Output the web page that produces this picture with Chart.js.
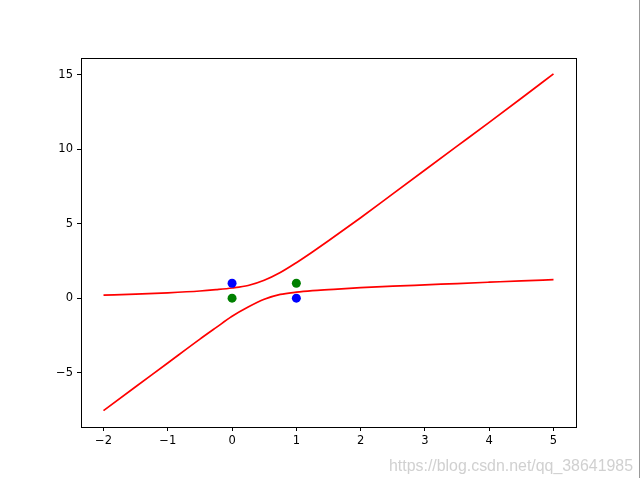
<!DOCTYPE html>
<html>
<head>
<meta charset="utf-8">
<script src="https://cdn.jsdelivr.net/npm/chart.js@4/dist/chart.umd.min.js"></script>
<style>
html,body{margin:0;padding:0;background:#fff;}
#wrap{width:641px;height:478px;position:relative;}
</style>
</head>
<body>
<div id="wrap"><canvas id="c" width="641" height="478"></canvas></div>
<script>
// ---- data ----
const curveX  = [-2, -1.5, -1, -0.5, -0.25, 0, 0.25, 0.5, 0.75, 1, 1.25, 1.5, 2, 2.5, 3, 3.5, 4, 4.5, 5];
const upperY  = [0.2, 0.27, 0.36, 0.48, 0.57, 0.68, 0.85, 1.2, 1.72, 2.38, 3.1, 3.85, 5.4, 7.0, 8.6, 10.2, 11.8, 13.42, 15.05];
const lowerY  = [-7.55, -5.95, -4.35, -2.75, -1.98, -1.22, -0.6, -0.08, 0.25, 0.4, 0.5, 0.57, 0.7, 0.8, 0.89, 0.98, 1.07, 1.16, 1.24];
const blueX   = [0, 1];
const blueY   = [1, 0];
const greenX  = [0, 1];
const greenY  = [0, 1];
const xTicks  = [-2, -1, 0, 1, 2, 3, 4, 5];
const yTicks  = [-5, 0, 5, 10, 15];
const watermark = "https://blog.csdn.net/qq_38641985";

const toPts = (xs, ys) => xs.map((x, i) => ({x: x, y: ys[i]}));
const minus = v => String(v).replace('-', '\u2212');

const boxPlugin = {
  id: 'box',
  afterDraw(chart) {
    const {ctx, chartArea: a} = chart;
    ctx.save();
    ctx.strokeStyle = '#000';
    ctx.lineWidth = 1;
    ctx.strokeRect(Math.round(a.left) + 0.5, Math.round(a.top) + 0.5,
                   Math.round(a.right - a.left), Math.round(a.bottom - a.top));
    // watermark
    ctx.fillStyle = 'rgba(200,200,200,0.85)';
    ctx.font = '16px "Liberation Sans", Arial, sans-serif';
    ctx.textBaseline = 'alphabetic';
    ctx.textAlign = 'left';
    ctx.fillText(watermark, 389, 471, 244);
    // right edge line
    ctx.strokeStyle = '#999';
    ctx.beginPath();
    ctx.moveTo(639.5, 0);
    ctx.lineTo(639.5, 478);
    ctx.stroke();
    ctx.restore();
  }
};

const font = {family: '"DejaVu Sans", sans-serif', size: 11.5};

new Chart(document.getElementById('c'), {
  type: 'scatter',
  data: {
    datasets: [
      {data: toPts(blueX, blueY), backgroundColor: '#0000ff', borderColor: '#0000ff', pointRadius: 4.5, pointBorderWidth: 0},
      {data: toPts(greenX, greenY), backgroundColor: '#008000', borderColor: '#008000', pointRadius: 4.5, pointBorderWidth: 0},
      {data: toPts(curveX, upperY), showLine: true, borderColor: '#ff0000', borderWidth: 1.7, pointRadius: 0, cubicInterpolationMode: 'monotone', fill: false},
      {data: toPts(curveX, lowerY), showLine: true, borderColor: '#ff0000', borderWidth: 1.7, pointRadius: 0, cubicInterpolationMode: 'monotone', fill: false}
    ]
  },
  options: {
    responsive: false,
    animation: false,
    events: [],
    layout: {padding: {left: 0, right: 65, top: 58, bottom: 21}},
    plugins: {legend: {display: false}, tooltip: {enabled: false}},
    scales: {
      x: {
        type: 'linear',
        min: -2.35, max: 5.35,
        afterBuildTicks: s => { s.ticks = xTicks.map(v => ({value: v})); },
        afterFit: s => { s.height = 30; },
        grid: {display: true, drawOnChartArea: false, drawTicks: true, tickLength: 4, color: '#000', lineWidth: 1},
        border: {display: true, color: '#000', width: 1},
        ticks: {color: '#000', font: font, padding: 3, maxRotation: 0, callback: v => minus(v)}
      },
      y: {
        type: 'linear',
        min: -8.65, max: 16.12,
        afterBuildTicks: s => { s.ticks = yTicks.map(v => ({value: v})); },
        afterFit: s => { s.width = 81; },
        grid: {display: true, drawOnChartArea: false, drawTicks: true, tickLength: 4, color: '#000', lineWidth: 1},
        border: {display: true, color: '#000', width: 1},
        ticks: {color: '#000', font: font, padding: 4, callback: v => minus(v)}
      }
    }
  },
  plugins: [boxPlugin]
});
</script>
</body>
</html>
